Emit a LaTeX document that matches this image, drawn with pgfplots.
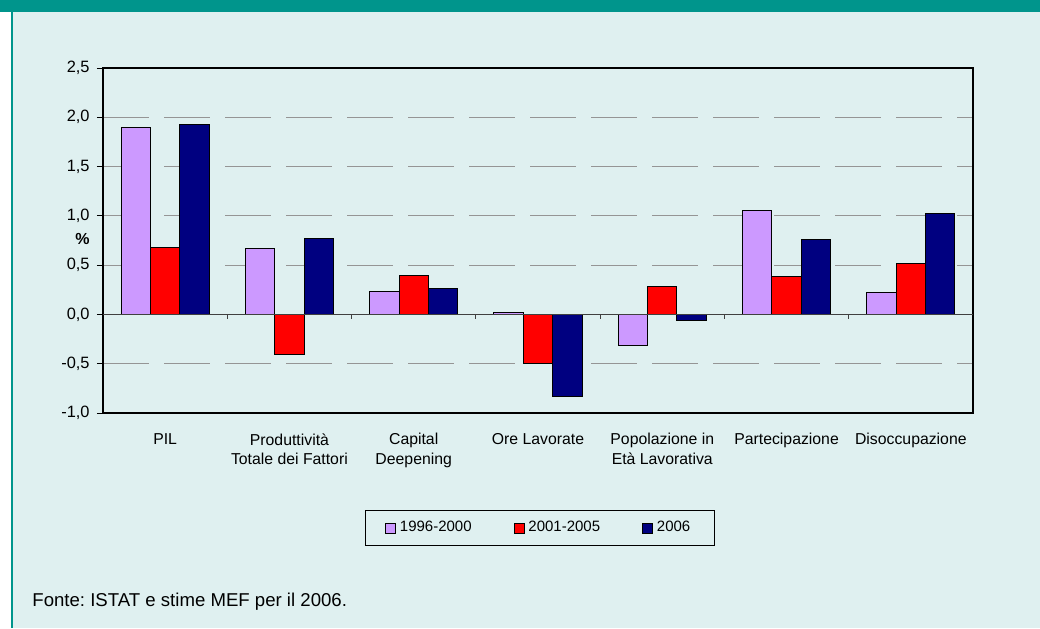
\documentclass[border=0pt]{standalone}
\usepackage{pgfplots}
\pgfplotsset{compat=1.18}
\usepackage{fontspec}
\setmainfont{Liberation Sans}
\frenchspacing
\definecolor{tealbar}{HTML}{00958C}
\definecolor{bgc}{HTML}{DFF0F0}
\definecolor{lilla}{HTML}{CC99FF}
\definecolor{rosso}{HTML}{FF0000}
\definecolor{blu}{HTML}{000080}
\definecolor{gridc}{HTML}{959595}
\begin{document}
\begin{tikzpicture}
\fill[white] (0,0) rectangle (520pt,-314pt);
\fill[bgc] (6.5pt,-6.2pt) rectangle (520pt,-314pt);
\fill[tealbar] (0,0) rectangle (520pt,-6.2pt);
\fill[tealbar] (5.5pt,-6.2pt) rectangle (6.5pt,-314pt);
\begin{axis}[
  at={(51.5pt,-206.5pt)}, anchor=south west,
  width=435pt, height=172.5pt, scale only axis, clip=false,
  ymin=-1, ymax=2.5, xmin=-0.5, xmax=6.5,
  ytick={-1,-0.5,0,0.5,1,1.5,2,2.5},
  /pgf/number format/fixed,
  /pgf/number format/fixed zerofill,
  /pgf/number format/precision=1,
  /pgf/number format/use comma,
  /pgf/number format/assume math mode=true,
  yticklabel style={font=\fontsize{8.2}{10}\selectfont, anchor=east, inner sep=0pt, xshift=-3.5pt},
  tick align=outside, ytick pos=left, major tick length=3pt,
  xtick={0,1,2,3,4,5,6},
  xticklabels={PIL,{Produttività\\Totale dei Fattori},{Capital\\Deepening},Ore Lavorate,{Popolazione in\\Età Lavorativa},Partecipazione,Disoccupazione},
  xtick style={draw=none},
  xticklabel style={align=center, font=\fontsize{7.9}{9.75}\selectfont, anchor=north, inner sep=0pt, yshift=-7pt},
  ymajorgrids, major grid style={gridc, line width=0.5pt, dash pattern=on 23pt off 7.5pt},
  axis line style={black, line width=0.6pt},
  tick style={black, line width=0.5pt},
  ybar=0pt, bar width=14.67pt,
  legend style={at={(0.502,-0.334)}, anchor=center, legend columns=3, draw=black, line width=0.5pt, fill=none,
    font=\fontsize{7.5}{9}\selectfont, inner xsep=10pt, inner ysep=3.5pt,
    /tikz/every even column/.append style={column sep=19pt}},
  legend image code/.code={\draw[#1, line width=0.4pt] (0pt,-2.5pt) rectangle (5pt,2.5pt);},
]
\addplot[fill=lilla, draw=black, line width=0.5pt] coordinates {(0,1.90) (1,0.67) (2,0.23) (3,0.02) (4,-0.32) (5,1.05) (6,0.22)};
\addplot[fill=rosso, draw=black, line width=0.5pt] coordinates {(0,0.68) (1,-0.41) (2,0.39) (3,-0.50) (4,0.28) (5,0.38) (6,0.52)};
\addplot[fill=blu, draw=black, line width=0.5pt] coordinates {(0,1.93) (1,0.77) (2,0.26) (3,-0.83) (4,-0.06) (5,0.76) (6,1.02)};
\legend{1996-2000,2001-2005,2006}
\draw[black!75, line width=0.5pt] (axis cs:-0.5,0) -- (axis cs:6.5,0);
\pgfplotsinvokeforeach{0.5,1.5,2.5,3.5,4.5,5.5}{\draw[black!75, line width=0.5pt] (axis cs:#1,0) -- ([yshift=-2.5pt]axis cs:#1,0);}
\node[font=\bfseries\fontsize{8}{10}\selectfont] at (rel axis cs:-0.0236,0.504) {\%};
\end{axis}
\node[anchor=base west, inner sep=0pt, font=\fontsize{9.3}{11}\selectfont] at (16pt,-303.3pt) {Fonte: ISTAT e stime MEF per il 2006.};
\end{tikzpicture}
\end{document}
